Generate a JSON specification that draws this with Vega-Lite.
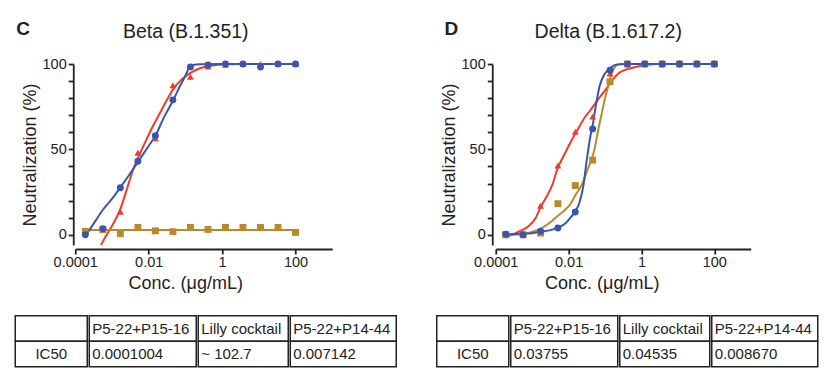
{
"$schema": "https://vega.github.io/schema/vega-lite/v6.json",
"padding": {"left": 14.25, "top": 19, "right": 5, "bottom": 5},
"config": {
  "font": "Liberation Sans",
  "view": {"stroke": null},
  "axis": {"labelFont": "Liberation Sans", "titleFont": "Liberation Sans", "labelFontSize": 14.5, "titleFontSize": 18, "titleFontWeight": "normal", "labelColor": "#222", "titleColor": "#222", "domainColor": "#222", "tickColor": "#222", "domainWidth": 1.8, "tickWidth": 1.8, "grid": false, "labelOverlap": false, "labelFlush": false},
  "title": {"font": "Liberation Sans", "color": "#222"}
},
"datasets": {
  "pts": [
    {"panel":"C","series":"P5-22+P14-44","conc":0.001694,"value":13.5},
    {"panel":"C","series":"P5-22+P14-44","conc":0.00508,"value":48},
    {"panel":"C","series":"P5-22+P14-44","conc":0.01524,"value":56.5},
    {"panel":"C","series":"P5-22+P14-44","conc":0.04572,"value":87.5},
    {"panel":"C","series":"P5-22+P14-44","conc":0.1372,"value":92.5},
    {"panel":"C","series":"P5-22+P14-44","conc":0.4115,"value":98.5},
    {"panel":"C","series":"P5-22+P14-44","conc":1.235,"value":99.5},
    {"panel":"C","series":"P5-22+P14-44","conc":3.704,"value":100},
    {"panel":"C","series":"P5-22+P14-44","conc":11.11,"value":100},
    {"panel":"C","series":"P5-22+P14-44","conc":33.33,"value":100},
    {"panel":"C","series":"P5-22+P14-44","conc":100,"value":100},
    {"panel":"C","series":"Lilly cocktail","conc":0.0001882,"value":2},
    {"panel":"C","series":"Lilly cocktail","conc":0.0005645,"value":3},
    {"panel":"C","series":"Lilly cocktail","conc":0.001694,"value":0.6},
    {"panel":"C","series":"Lilly cocktail","conc":0.00508,"value":4.3},
    {"panel":"C","series":"Lilly cocktail","conc":0.01524,"value":2.3},
    {"panel":"C","series":"Lilly cocktail","conc":0.04572,"value":1.8},
    {"panel":"C","series":"Lilly cocktail","conc":0.1372,"value":4.3},
    {"panel":"C","series":"Lilly cocktail","conc":0.4115,"value":3.1},
    {"panel":"C","series":"Lilly cocktail","conc":1.235,"value":4.3},
    {"panel":"C","series":"Lilly cocktail","conc":3.704,"value":4.3},
    {"panel":"C","series":"Lilly cocktail","conc":11.11,"value":4.3},
    {"panel":"C","series":"Lilly cocktail","conc":33.33,"value":4.3},
    {"panel":"C","series":"Lilly cocktail","conc":100,"value":1.4},
    {"panel":"C","series":"P5-22+P15-16","conc":0.0001882,"value":0},
    {"panel":"C","series":"P5-22+P15-16","conc":0.0005645,"value":3.5},
    {"panel":"C","series":"P5-22+P15-16","conc":0.001694,"value":27.5},
    {"panel":"C","series":"P5-22+P15-16","conc":0.00508,"value":43},
    {"panel":"C","series":"P5-22+P15-16","conc":0.01524,"value":58},
    {"panel":"C","series":"P5-22+P15-16","conc":0.04572,"value":79},
    {"panel":"C","series":"P5-22+P15-16","conc":0.1372,"value":98.3},
    {"panel":"C","series":"P5-22+P15-16","conc":0.4115,"value":99.4},
    {"panel":"C","series":"P5-22+P15-16","conc":1.235,"value":100},
    {"panel":"C","series":"P5-22+P15-16","conc":3.704,"value":100},
    {"panel":"C","series":"P5-22+P15-16","conc":11.11,"value":98.2},
    {"panel":"C","series":"P5-22+P15-16","conc":33.33,"value":100},
    {"panel":"C","series":"P5-22+P15-16","conc":100,"value":100},
    {"panel":"D","series":"P5-22+P14-44","conc":0.001694,"value":17},
    {"panel":"D","series":"P5-22+P14-44","conc":0.00508,"value":40.5},
    {"panel":"D","series":"P5-22+P14-44","conc":0.01524,"value":60.3},
    {"panel":"D","series":"P5-22+P14-44","conc":0.04572,"value":69.3},
    {"panel":"D","series":"P5-22+P14-44","conc":0.1372,"value":94.5},
    {"panel":"D","series":"P5-22+P14-44","conc":0.4115,"value":100},
    {"panel":"D","series":"P5-22+P14-44","conc":1.235,"value":100},
    {"panel":"D","series":"P5-22+P14-44","conc":3.704,"value":100},
    {"panel":"D","series":"P5-22+P14-44","conc":11.11,"value":100},
    {"panel":"D","series":"P5-22+P14-44","conc":33.33,"value":100},
    {"panel":"D","series":"P5-22+P14-44","conc":100,"value":100},
    {"panel":"D","series":"Lilly cocktail","conc":0.0001882,"value":0},
    {"panel":"D","series":"Lilly cocktail","conc":0.0005645,"value":0},
    {"panel":"D","series":"Lilly cocktail","conc":0.001694,"value":1},
    {"panel":"D","series":"Lilly cocktail","conc":0.00508,"value":18.2},
    {"panel":"D","series":"Lilly cocktail","conc":0.01524,"value":28.8},
    {"panel":"D","series":"Lilly cocktail","conc":0.04572,"value":43.7},
    {"panel":"D","series":"Lilly cocktail","conc":0.1372,"value":89.6},
    {"panel":"D","series":"Lilly cocktail","conc":0.4115,"value":100},
    {"panel":"D","series":"Lilly cocktail","conc":1.235,"value":100},
    {"panel":"D","series":"Lilly cocktail","conc":3.704,"value":100},
    {"panel":"D","series":"Lilly cocktail","conc":11.11,"value":100},
    {"panel":"D","series":"Lilly cocktail","conc":33.33,"value":100},
    {"panel":"D","series":"Lilly cocktail","conc":100,"value":100},
    {"panel":"D","series":"P5-22+P15-16","conc":0.0001882,"value":0.3},
    {"panel":"D","series":"P5-22+P15-16","conc":0.0005645,"value":0},
    {"panel":"D","series":"P5-22+P15-16","conc":0.001694,"value":2.1},
    {"panel":"D","series":"P5-22+P15-16","conc":0.00508,"value":4},
    {"panel":"D","series":"P5-22+P15-16","conc":0.01524,"value":13.3},
    {"panel":"D","series":"P5-22+P15-16","conc":0.04572,"value":62},
    {"panel":"D","series":"P5-22+P15-16","conc":0.1372,"value":96.3},
    {"panel":"D","series":"P5-22+P15-16","conc":0.4115,"value":100},
    {"panel":"D","series":"P5-22+P15-16","conc":1.235,"value":100},
    {"panel":"D","series":"P5-22+P15-16","conc":3.704,"value":100},
    {"panel":"D","series":"P5-22+P15-16","conc":11.11,"value":100},
    {"panel":"D","series":"P5-22+P15-16","conc":33.33,"value":100},
    {"panel":"D","series":"P5-22+P15-16","conc":100,"value":100}
  ],
  "curves": [
    {"panel":"C","series":"P5-22+P14-44","conc":0.0005012,"value":-6},
    {"panel":"C","series":"P5-22+P14-44","conc":0.0006577,"value":-1.5},
    {"panel":"C","series":"P5-22+P14-44","conc":0.0009016,"value":3.5},
    {"panel":"C","series":"P5-22+P14-44","conc":0.001694,"value":15},
    {"panel":"C","series":"P5-22+P14-44","conc":0.00257,"value":27},
    {"panel":"C","series":"P5-22+P14-44","conc":0.00389,"value":39},
    {"panel":"C","series":"P5-22+P14-44","conc":0.005623,"value":47},
    {"panel":"C","series":"P5-22+P14-44","conc":0.007943,"value":54},
    {"panel":"C","series":"P5-22+P14-44","conc":0.01259,"value":63},
    {"panel":"C","series":"P5-22+P14-44","conc":0.01995,"value":71},
    {"panel":"C","series":"P5-22+P14-44","conc":0.03162,"value":79},
    {"panel":"C","series":"P5-22+P14-44","conc":0.04571,"value":85},
    {"panel":"C","series":"P5-22+P14-44","conc":0.07943,"value":91},
    {"panel":"C","series":"P5-22+P14-44","conc":0.1413,"value":95},
    {"panel":"C","series":"P5-22+P14-44","conc":0.2512,"value":97.5},
    {"panel":"C","series":"P5-22+P14-44","conc":0.5012,"value":99},
    {"panel":"C","series":"P5-22+P14-44","conc":1,"value":99.7},
    {"panel":"C","series":"P5-22+P14-44","conc":3.162,"value":100},
    {"panel":"C","series":"P5-22+P14-44","conc":100,"value":100},
    {"panel":"C","series":"Lilly cocktail","conc":0.0001882,"value":2.8},
    {"panel":"C","series":"Lilly cocktail","conc":100,"value":2.8},
    {"panel":"C","series":"P5-22+P15-16","conc":0.0001882,"value":-1},
    {"panel":"C","series":"P5-22+P15-16","conc":0.0003162,"value":6.5},
    {"panel":"C","series":"P5-22+P15-16","conc":0.0005623,"value":14.5},
    {"panel":"C","series":"P5-22+P15-16","conc":0.001,"value":21},
    {"panel":"C","series":"P5-22+P15-16","conc":0.001694,"value":27.7},
    {"panel":"C","series":"P5-22+P15-16","conc":0.003162,"value":36},
    {"panel":"C","series":"P5-22+P15-16","conc":0.00508,"value":42.5},
    {"panel":"C","series":"P5-22+P15-16","conc":0.01,"value":52},
    {"panel":"C","series":"P5-22+P15-16","conc":0.01524,"value":58},
    {"panel":"C","series":"P5-22+P15-16","conc":0.02512,"value":68},
    {"panel":"C","series":"P5-22+P15-16","conc":0.04571,"value":78.5},
    {"panel":"C","series":"P5-22+P15-16","conc":0.07079,"value":87},
    {"panel":"C","series":"P5-22+P15-16","conc":0.1122,"value":95.5},
    {"panel":"C","series":"P5-22+P15-16","conc":0.1259,"value":98.3},
    {"panel":"C","series":"P5-22+P15-16","conc":0.1585,"value":99.4},
    {"panel":"C","series":"P5-22+P15-16","conc":0.2512,"value":99.8},
    {"panel":"C","series":"P5-22+P15-16","conc":1,"value":100},
    {"panel":"C","series":"P5-22+P15-16","conc":100,"value":100},
    {"panel":"D","series":"P5-22+P14-44","conc":0.0001882,"value":-1.5},
    {"panel":"D","series":"P5-22+P14-44","conc":0.0003162,"value":0.5},
    {"panel":"D","series":"P5-22+P14-44","conc":0.0005012,"value":2.5},
    {"panel":"D","series":"P5-22+P14-44","conc":0.0007943,"value":5},
    {"panel":"D","series":"P5-22+P14-44","conc":0.001259,"value":10},
    {"panel":"D","series":"P5-22+P14-44","conc":0.001694,"value":16},
    {"panel":"D","series":"P5-22+P14-44","conc":0.002512,"value":22.5},
    {"panel":"D","series":"P5-22+P14-44","conc":0.003548,"value":29},
    {"panel":"D","series":"P5-22+P14-44","conc":0.005012,"value":39},
    {"panel":"D","series":"P5-22+P14-44","conc":0.007079,"value":45.5},
    {"panel":"D","series":"P5-22+P14-44","conc":0.01,"value":52},
    {"panel":"D","series":"P5-22+P14-44","conc":0.01413,"value":58},
    {"panel":"D","series":"P5-22+P14-44","conc":0.01995,"value":63.5},
    {"panel":"D","series":"P5-22+P14-44","conc":0.02818,"value":69},
    {"panel":"D","series":"P5-22+P14-44","conc":0.03981,"value":73},
    {"panel":"D","series":"P5-22+P14-44","conc":0.0631,"value":79},
    {"panel":"D","series":"P5-22+P14-44","conc":0.1,"value":84.5},
    {"panel":"D","series":"P5-22+P14-44","conc":0.1585,"value":90.5},
    {"panel":"D","series":"P5-22+P14-44","conc":0.2512,"value":95},
    {"panel":"D","series":"P5-22+P14-44","conc":0.5012,"value":97.5},
    {"panel":"D","series":"P5-22+P14-44","conc":1,"value":99},
    {"panel":"D","series":"P5-22+P14-44","conc":2.512,"value":100},
    {"panel":"D","series":"P5-22+P14-44","conc":100,"value":100},
    {"panel":"D","series":"Lilly cocktail","conc":0.0001882,"value":0},
    {"panel":"D","series":"Lilly cocktail","conc":0.0005012,"value":0.3},
    {"panel":"D","series":"Lilly cocktail","conc":0.001,"value":1.8},
    {"panel":"D","series":"Lilly cocktail","conc":0.001694,"value":3.5},
    {"panel":"D","series":"Lilly cocktail","conc":0.003162,"value":7.3},
    {"panel":"D","series":"Lilly cocktail","conc":0.005012,"value":11},
    {"panel":"D","series":"Lilly cocktail","conc":0.007943,"value":14.5},
    {"panel":"D","series":"Lilly cocktail","conc":0.01122,"value":18},
    {"panel":"D","series":"Lilly cocktail","conc":0.01514,"value":23},
    {"panel":"D","series":"Lilly cocktail","conc":0.01995,"value":27},
    {"panel":"D","series":"Lilly cocktail","conc":0.02512,"value":31},
    {"panel":"D","series":"Lilly cocktail","conc":0.03162,"value":37},
    {"panel":"D","series":"Lilly cocktail","conc":0.03981,"value":42.5},
    {"panel":"D","series":"Lilly cocktail","conc":0.05012,"value":49},
    {"panel":"D","series":"Lilly cocktail","conc":0.0631,"value":60},
    {"panel":"D","series":"Lilly cocktail","conc":0.07943,"value":70},
    {"panel":"D","series":"Lilly cocktail","conc":0.1,"value":80},
    {"panel":"D","series":"Lilly cocktail","conc":0.1259,"value":88},
    {"panel":"D","series":"Lilly cocktail","conc":0.1585,"value":95.5},
    {"panel":"D","series":"Lilly cocktail","conc":0.1995,"value":99},
    {"panel":"D","series":"Lilly cocktail","conc":0.2512,"value":100},
    {"panel":"D","series":"Lilly cocktail","conc":100,"value":100},
    {"panel":"D","series":"P5-22+P15-16","conc":0.0001882,"value":0.3},
    {"panel":"D","series":"P5-22+P15-16","conc":0.0005012,"value":0.6},
    {"panel":"D","series":"P5-22+P15-16","conc":0.001,"value":0.9},
    {"panel":"D","series":"P5-22+P15-16","conc":0.001694,"value":1.8},
    {"panel":"D","series":"P5-22+P15-16","conc":0.003162,"value":2.7},
    {"panel":"D","series":"P5-22+P15-16","conc":0.005012,"value":4.2},
    {"panel":"D","series":"P5-22+P15-16","conc":0.007943,"value":6.5},
    {"panel":"D","series":"P5-22+P15-16","conc":0.01122,"value":10},
    {"panel":"D","series":"P5-22+P15-16","conc":0.01514,"value":13.5},
    {"panel":"D","series":"P5-22+P15-16","conc":0.01995,"value":19},
    {"panel":"D","series":"P5-22+P15-16","conc":0.02512,"value":28},
    {"panel":"D","series":"P5-22+P15-16","conc":0.03162,"value":44},
    {"panel":"D","series":"P5-22+P15-16","conc":0.03981,"value":58},
    {"panel":"D","series":"P5-22+P15-16","conc":0.04571,"value":64},
    {"panel":"D","series":"P5-22+P15-16","conc":0.05623,"value":76},
    {"panel":"D","series":"P5-22+P15-16","conc":0.07079,"value":87},
    {"panel":"D","series":"P5-22+P15-16","conc":0.1,"value":94.5},
    {"panel":"D","series":"P5-22+P15-16","conc":0.1349,"value":97.5},
    {"panel":"D","series":"P5-22+P15-16","conc":0.1995,"value":99.5},
    {"panel":"D","series":"P5-22+P15-16","conc":0.3981,"value":100},
    {"panel":"D","series":"P5-22+P15-16","conc":100,"value":100}
  ],
  "table": [
    {"panel":"C","col":1,"row":"header","text":""},
    {"panel":"C","col":2,"row":"header","text":"P5-22+P15-16"},
    {"panel":"C","col":3,"row":"header","text":"Lilly cocktail"},
    {"panel":"C","col":4,"row":"header","text":"P5-22+P14-44"},
    {"panel":"C","col":1,"row":"IC50","text":"IC50"},
    {"panel":"C","col":2,"row":"IC50","text":"0.0001004"},
    {"panel":"C","col":3,"row":"IC50","text":"~ 102.7"},
    {"panel":"C","col":4,"row":"IC50","text":"0.007142"},
    {"panel":"D","col":1,"row":"header","text":""},
    {"panel":"D","col":2,"row":"header","text":"P5-22+P15-16"},
    {"panel":"D","col":3,"row":"header","text":"Lilly cocktail"},
    {"panel":"D","col":4,"row":"header","text":"P5-22+P14-44"},
    {"panel":"D","col":1,"row":"IC50","text":"IC50"},
    {"panel":"D","col":2,"row":"IC50","text":"0.03755"},
    {"panel":"D","col":3,"row":"IC50","text":"0.04535"},
    {"panel":"D","col":4,"row":"IC50","text":"0.008670"}
  ]
},
"spacing": 21.75,
"vconcat": [
  {
    "spacing": 0,
    "hconcat": [
      {"width": 1, "height": 1, "data": {"values": [{"s": 0}]}, "mark": {"type": "point", "size": 0, "opacity": 0}},
      {
        "spacing": 107.5,
        "hconcat": [
          {
            "title": {"text": "C", "anchor": "start", "fontSize": 19, "fontWeight": "bold", "offset": -17, "dx": -4.8},
            "vconcat": [
              {
                "width": 257, "height": 181,
                "title": {"text": "Beta (B.1.351)", "fontSize": 19.5, "fontWeight": "normal", "dx": -18, "offset": 14},
                "encoding": {
                  "x": {"field": "conc", "type": "quantitative", "scale": {"type": "log", "domain": [0.0001, 1000], "nice": false}, "axis": {"values": [0.0001, 0.01, 1, 100], "format": "~g", "title": "Conc. (μg/mL)", "offset": 4, "tickSize": 5, "labelPadding": 1, "titlePadding": 6, "titleX": 110}},
                  "y": {"field": "value", "type": "quantitative", "scale": {"domain": [-6, 100], "nice": false, "zero": false}, "axis": {"values": [0,10,20,30,40,50,60,70,80,90,100], "labelExpr": "datum.value % 50 === 0 ? datum.label : ''", "title": "Neutralization (%)", "offset": 2, "tickSize": 5, "labelPadding": 2, "titlePadding": 3}},
                  "color": {"field": "series", "type": "nominal", "scale": {"domain": ["P5-22+P15-16", "Lilly cocktail", "P5-22+P14-44"], "range": ["#3A55AE", "#B98A2B", "#EF3B2C"]}, "legend": null}
                },
                "layer": [
                  {"data": {"name": "curves"}, "transform": [{"filter": "datum.panel === 'C'"}], "mark": {"type": "line", "strokeWidth": 2, "interpolate": "monotone"}},
                  {"data": {"name": "pts"}, "transform": [{"filter": "datum.panel === 'C'"}], "mark": {"type": "point", "filled": true, "size": 48, "opacity": 1},
                   "encoding": {"shape": {"field": "series", "type": "nominal", "scale": {"domain": ["P5-22+P15-16", "Lilly cocktail", "P5-22+P14-44"], "range": ["circle", "square", "triangle-up"]}, "legend": null}}}
                ]
              }
            ]
          },
          {
            "title": {"text": "D", "anchor": "start", "fontSize": 19, "fontWeight": "bold", "offset": -17, "dx": 4.5},
            "vconcat": [
              {
                "width": 255, "height": 181,
                "title": {"text": "Delta (B.1.617.2)", "fontSize": 19.5, "fontWeight": "normal", "dx": -15, "offset": 14},
                "encoding": {
                  "x": {"field": "conc", "type": "quantitative", "scale": {"type": "log", "domain": [0.0001, 1000], "nice": false}, "axis": {"values": [0.0001, 0.01, 1, 100], "format": "~g", "title": "Conc. (μg/mL)", "offset": 4, "tickSize": 5, "labelPadding": 1, "titlePadding": 6, "titleX": 106}},
                  "y": {"field": "value", "type": "quantitative", "scale": {"domain": [-6, 100], "nice": false, "zero": false}, "axis": {"values": [0,10,20,30,40,50,60,70,80,90,100], "labelExpr": "datum.value % 50 === 0 ? datum.label : ''", "title": "Neutralization (%)", "offset": 3.5, "tickSize": 5, "labelPadding": 2, "titlePadding": 3}},
                  "color": {"field": "series", "type": "nominal", "scale": {"domain": ["P5-22+P15-16", "Lilly cocktail", "P5-22+P14-44"], "range": ["#3A55AE", "#B98A2B", "#EF3B2C"]}, "legend": null}
                },
                "layer": [
                  {"data": {"name": "curves"}, "transform": [{"filter": "datum.panel === 'D'"}], "mark": {"type": "line", "strokeWidth": 2, "interpolate": "monotone"}},
                  {"data": {"name": "pts"}, "transform": [{"filter": "datum.panel === 'D'"}], "mark": {"type": "point", "filled": true, "size": 48, "opacity": 1},
                   "encoding": {"shape": {"field": "series", "type": "nominal", "scale": {"domain": ["P5-22+P15-16", "Lilly cocktail", "P5-22+P14-44"], "range": ["circle", "square", "triangle-up"]}, "legend": null}}}
                ]
              }
            ]
          }
        ]
      }
    ]
  },
  {
    "spacing": 38.5,
    "hconcat": [
      {
        "spacing": 0,
        "hconcat": [
          {"width": 72, "height": 51, "data": {"name": "table"}, "transform": [{"filter": "datum.panel === 'C' && datum.col === 1"}],
           "encoding": {"y": {"field": "row", "type": "nominal", "sort": ["header", "IC50"], "scale": {"paddingInner": 0, "paddingOuter": 0}, "axis": null}},
           "layer": [
             {"mark": {"type": "rect", "fill": "white", "stroke": "#222", "strokeWidth": 1.5}},
             {"mark": {"type": "text", "align": "center", "baseline": "middle", "fontSize": 15, "color": "#222"}, "encoding": {"x": {"datum": 0.5, "type": "quantitative", "scale": {"domain": [0, 1]}, "axis": null}, "text": {"field": "text"}}}
           ]},
          {"width": 107, "height": 51, "data": {"name": "table"}, "transform": [{"filter": "datum.panel === 'C' && datum.col === 2"}],
           "encoding": {"y": {"field": "row", "type": "nominal", "sort": ["header", "IC50"], "scale": {"paddingInner": 0, "paddingOuter": 0}, "axis": null}},
           "layer": [
             {"mark": {"type": "rect", "fill": "white", "stroke": "#222", "strokeWidth": 1.5}},
             {"mark": {"type": "text", "align": "left", "dx": 3, "baseline": "middle", "fontSize": 15, "color": "#222"}, "encoding": {"x": {"datum": 0, "type": "quantitative", "scale": {"domain": [0, 1]}, "axis": null}, "text": {"field": "text"}}}
           ]},
          {"width": 90, "height": 51, "data": {"name": "table"}, "transform": [{"filter": "datum.panel === 'C' && datum.col === 3"}],
           "encoding": {"y": {"field": "row", "type": "nominal", "sort": ["header", "IC50"], "scale": {"paddingInner": 0, "paddingOuter": 0}, "axis": null}},
           "layer": [
             {"mark": {"type": "rect", "fill": "white", "stroke": "#222", "strokeWidth": 1.5}},
             {"mark": {"type": "text", "align": "left", "dx": 3, "baseline": "middle", "fontSize": 15, "color": "#222"}, "encoding": {"x": {"datum": 0, "type": "quantitative", "scale": {"domain": [0, 1]}, "axis": null}, "text": {"field": "text"}}}
           ]},
          {"width": 106, "height": 51, "data": {"name": "table"}, "transform": [{"filter": "datum.panel === 'C' && datum.col === 4"}],
           "encoding": {"y": {"field": "row", "type": "nominal", "sort": ["header", "IC50"], "scale": {"paddingInner": 0, "paddingOuter": 0}, "axis": null}},
           "layer": [
             {"mark": {"type": "rect", "fill": "white", "stroke": "#222", "strokeWidth": 1.5}},
             {"mark": {"type": "text", "align": "left", "dx": 3, "baseline": "middle", "fontSize": 15, "color": "#222"}, "encoding": {"x": {"datum": 0, "type": "quantitative", "scale": {"domain": [0, 1]}, "axis": null}, "text": {"field": "text"}}}
           ]}
        ]
      },
      {
        "spacing": 0,
        "hconcat": [
          {"width": 72, "height": 51, "data": {"name": "table"}, "transform": [{"filter": "datum.panel === 'D' && datum.col === 1"}],
           "encoding": {"y": {"field": "row", "type": "nominal", "sort": ["header", "IC50"], "scale": {"paddingInner": 0, "paddingOuter": 0}, "axis": null}},
           "layer": [
             {"mark": {"type": "rect", "fill": "white", "stroke": "#222", "strokeWidth": 1.5}},
             {"mark": {"type": "text", "align": "center", "baseline": "middle", "fontSize": 15, "color": "#222"}, "encoding": {"x": {"datum": 0.5, "type": "quantitative", "scale": {"domain": [0, 1]}, "axis": null}, "text": {"field": "text"}}}
           ]},
          {"width": 107, "height": 51, "data": {"name": "table"}, "transform": [{"filter": "datum.panel === 'D' && datum.col === 2"}],
           "encoding": {"y": {"field": "row", "type": "nominal", "sort": ["header", "IC50"], "scale": {"paddingInner": 0, "paddingOuter": 0}, "axis": null}},
           "layer": [
             {"mark": {"type": "rect", "fill": "white", "stroke": "#222", "strokeWidth": 1.5}},
             {"mark": {"type": "text", "align": "left", "dx": 3, "baseline": "middle", "fontSize": 15, "color": "#222"}, "encoding": {"x": {"datum": 0, "type": "quantitative", "scale": {"domain": [0, 1]}, "axis": null}, "text": {"field": "text"}}}
           ]},
          {"width": 90, "height": 51, "data": {"name": "table"}, "transform": [{"filter": "datum.panel === 'D' && datum.col === 3"}],
           "encoding": {"y": {"field": "row", "type": "nominal", "sort": ["header", "IC50"], "scale": {"paddingInner": 0, "paddingOuter": 0}, "axis": null}},
           "layer": [
             {"mark": {"type": "rect", "fill": "white", "stroke": "#222", "strokeWidth": 1.5}},
             {"mark": {"type": "text", "align": "left", "dx": 3, "baseline": "middle", "fontSize": 15, "color": "#222"}, "encoding": {"x": {"datum": 0, "type": "quantitative", "scale": {"domain": [0, 1]}, "axis": null}, "text": {"field": "text"}}}
           ]},
          {"width": 106, "height": 51, "data": {"name": "table"}, "transform": [{"filter": "datum.panel === 'D' && datum.col === 4"}],
           "encoding": {"y": {"field": "row", "type": "nominal", "sort": ["header", "IC50"], "scale": {"paddingInner": 0, "paddingOuter": 0}, "axis": null}},
           "layer": [
             {"mark": {"type": "rect", "fill": "white", "stroke": "#222", "strokeWidth": 1.5}},
             {"mark": {"type": "text", "align": "left", "dx": 3, "baseline": "middle", "fontSize": 15, "color": "#222"}, "encoding": {"x": {"datum": 0, "type": "quantitative", "scale": {"domain": [0, 1]}, "axis": null}, "text": {"field": "text"}}}
           ]}
        ]
      }
    ]
  }
]
}
